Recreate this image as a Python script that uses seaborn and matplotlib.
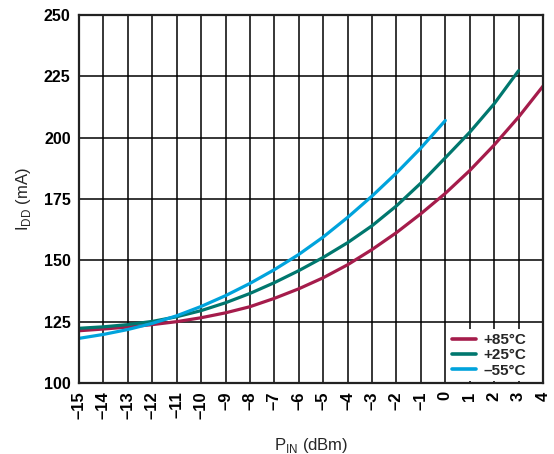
import numpy as np
import pandas as pd
import seaborn as sns
import matplotlib
matplotlib.use("Agg")
import matplotlib.pyplot as plt

# P_IN (dBm) for each series
pin_85 = list(range(-15, 5))
pin_25 = list(range(-15, 4))
pin_m55 = list(range(-15, 1))

# I_DD (mA)
idd_85 = [121.3, 122.0, 122.8, 123.8, 125.0, 126.6, 128.6, 131.1, 134.5, 138.4,
          142.9, 148.2, 154.4, 161.3, 169.0, 177.3, 186.6, 197.0, 208.4, 221.0]
idd_25 = [122.3, 122.9, 123.8, 125.1, 127.0, 129.5, 132.7, 136.5, 140.9, 145.8,
          151.2, 157.2, 164.1, 172.2, 181.5, 191.8, 202.2, 213.8, 227.3]
idd_m55 = [118.2, 119.8, 121.8, 124.3, 127.4, 131.2, 135.6, 140.6, 146.2, 152.4,
           159.5, 167.5, 176.2, 185.6, 195.8, 207.0]

series_names = ["+85°C", "+25°C", "–55°C"]
series_colors = ["#A51C4B", "#00776E", "#00A3DC"]

x_ticks = list(range(-15, 5))
y_ticks = [100, 125, 150, 175, 200, 225, 250]

df = pd.concat([
    pd.DataFrame({"pin": pin_85, "idd": idd_85, "temp": series_names[0]}),
    pd.DataFrame({"pin": pin_25, "idd": idd_25, "temp": series_names[1]}),
    pd.DataFrame({"pin": pin_m55, "idd": idd_m55, "temp": series_names[2]}),
])

sns.set_theme(style="white")
plt.rcParams["font.family"] = ["Liberation Sans", "DejaVu Sans"]

fig = plt.figure(figsize=(5.54, 4.54), dpi=100)
ax = fig.add_axes([79 / 554, 71 / 454, 464 / 554, 368 / 454])

sns.lineplot(data=df, x="pin", y="idd", hue="temp", hue_order=series_names,
             palette=series_colors, linewidth=2.3, ax=ax, legend=True)

ax.set_xlim(-15, 4)
ax.set_ylim(100, 250)
ax.set_xticks(x_ticks)
ax.set_xticklabels([str(t).replace("-", "–") for t in x_ticks],
                   rotation=90, fontsize=12, fontweight="bold")
ax.set_yticks(y_ticks)
ax.set_yticklabels([str(t) for t in y_ticks], fontsize=11.5, fontweight="bold")
ax.tick_params(axis="both", length=0, pad=6, colors="black")

ax.grid(True, color="black", linewidth=1.1)
ax.set_axisbelow(True)
for s in ax.spines.values():
    s.set_color("#222222")
    s.set_linewidth(1.6)

ax.set_xlabel("P$_{\\mathregular{IN}}$ (dBm)", fontsize=12, labelpad=12)
ax.set_ylabel("I$_{\\mathregular{DD}}$ (mA)", fontsize=12, labelpad=8)

# legend sits just under the 125 mA gridline, white box hides the grid
leg = ax.legend(loc="lower right", bbox_to_anchor=(0.975, 0.0),
                frameon=True, fancybox=False, framealpha=1,
                edgecolor="white", handlelength=1.6, handletextpad=0.45,
                labelspacing=0.08, borderpad=0.25, borderaxespad=0.1,
                prop={"size": 11, "weight": "bold"})
leg.get_frame().set_linewidth(0)
for line in leg.get_lines():
    line.set_linewidth(2.6)

fig.savefig("out.png", dpi=100)
